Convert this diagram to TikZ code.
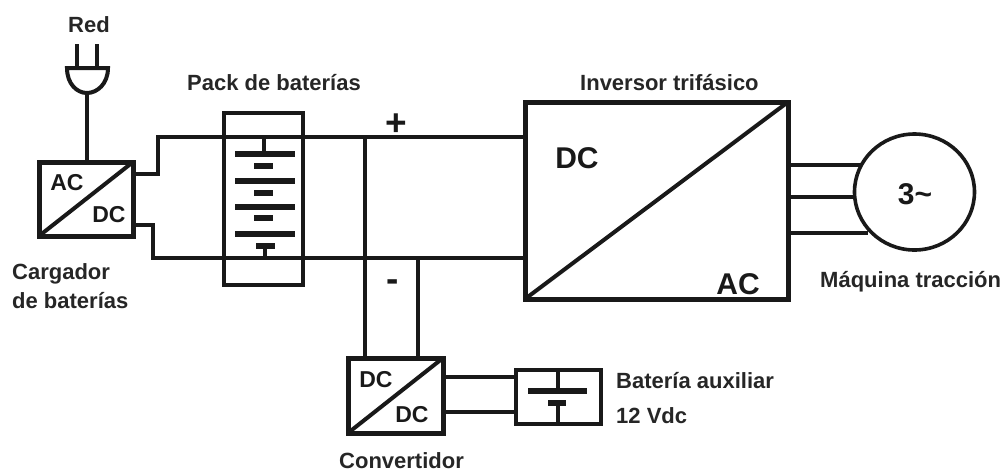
\documentclass[tikz,border=0pt]{standalone}
\usepackage{fontspec}
\setmainfont{Liberation Sans}
\begin{document}
\begin{tikzpicture}[x=1pt,y=-1pt,
  wire/.style={line width=4pt,draw=black!90},
  blockbox/.style={draw=black!90,line width=5pt},
  cellbar/.style={draw=black!90,line width=6pt},
  lab/.style={font=\bfseries\fontsize{22}{24}\selectfont,text=black!85,inner sep=0pt,anchor=west},
  big/.style={font=\bfseries\fontsize{23}{25}\selectfont,text=black!90,inner sep=0pt},
  huge/.style={font=\bfseries\fontsize{30}{32}\selectfont,text=black!90,inner sep=0pt}]
\useasboundingbox (0,0) rectangle (1005,472);
% coordinates
\coordinate (ch1) at (39,162); \coordinate (ch2) at (133,236);
\coordinate (co1) at (348,358); \coordinate (co2) at (443,433);
\coordinate (in1) at (525,102); \coordinate (in2) at (788,299);
\coordinate (ba1) at (516,370); \coordinate (ba2) at (601,424);
\coordinate (pk1) at (224,113); \coordinate (pk2) at (303,285);
% wires
\draw[wire] (87,93) -- (87,162);
\draw[wire] (77,44) -- (77,68) (97,44) -- (97,68);
\draw[wire] (67,68) -- (108,68) .. controls (108,84) and (97,93) .. (87,93) .. controls (77,93) and (67,84) .. (67,68) -- cycle;
\draw[wire] (133,174) -- (158,174) -- (158,137) -- (525,137);
\draw[wire] (133,225) -- (153,225) -- (153,258) -- (525,258);
\draw[wire] (365,137) -- (365,358);
\draw[wire] (418,258) -- (418,358);
\draw[wire] (443,377) -- (516,377);
\draw[wire] (443,412) -- (516,412);
\coordinate (mo1) at (862,165); \coordinate (mo2) at (855,197); \coordinate (mo3) at (868,233);
\draw[wire] (788,165) -- (mo1);
\draw[wire] (788,197) -- (mo2);
\draw[wire] (788,233) -- (mo3);
% boxes
\draw[blockbox] (ch1) rectangle (ch2);
\draw[wire] (ch1 |- ch2) -- (ch2 |- ch1);
\draw[blockbox] (co1) rectangle (co2);
\draw[wire] (co1 |- co2) -- (co2 |- co1);
\draw[blockbox] (in1) rectangle (in2);
\draw[wire] (in1 |- in2) -- (in2 |- in1);
\draw[wire] (ba1) rectangle (ba2);
\draw[wire] (pk1) rectangle (pk2);
\draw[draw=black!90,line width=3.6pt,fill=white] (914.5,192) circle [x radius=60,y radius=58];
% pack
\draw[wire] (264,137) -- (264,154) (265,246) -- (265,258);
\foreach \y in {154,181,207,234} \draw[cellbar] (235,\y) -- (295,\y);
\foreach \y in {166,193,218} \draw[cellbar] (254,\y) -- (273,\y);
\draw[cellbar] (256,246) -- (275,246);
% aux battery
\draw[wire] (558,370) -- (558,391) (558,403) -- (558,424);
\draw[cellbar] (528,391) -- (587,391);
\draw[cellbar] (548,403) -- (566,403);
% labels
\node[lab,anchor=center] (tred) at (89,25) {Red};
\node[lab] (tpack) at (187,83) {Pack de baterías};
\node[lab] (tinv) at (580,83) {Inversor trifásico};
\node[lab] (tcar1) at (12,274) {Cargador};
\node[lab] (tcar2) at (12,301) {de baterías};
\node[lab] (tmaq) at (820,282) {Máquina tracción};
\node[lab] (taux1) at (616,381) {Batería auxiliar};
\node[lab] (taux2) at (616,416) {12 Vdc};
\node[lab] (tconv) at (339,461) {Convertidor};
\node[big] (t1) at (67,183) {AC};
\node[big] (t2) at (109,215) {DC};
\node[big] (t3) at (376,380) {DC};
\node[big] (t4) at (412,415) {DC};
\node[huge] (t5) at (577,158) {DC};
\node[huge] (t6) at (738,284) {AC};
\node[huge] (t7) at (915,194) {3\textasciitilde};
\node[huge,font=\bfseries\fontsize{37}{39}\selectfont] (tp) at (396,125) {+};
\node[huge,font=\bfseries\fontsize{37}{39}\selectfont] (tm) at (393,286) {-};
\end{tikzpicture}
\end{document}
